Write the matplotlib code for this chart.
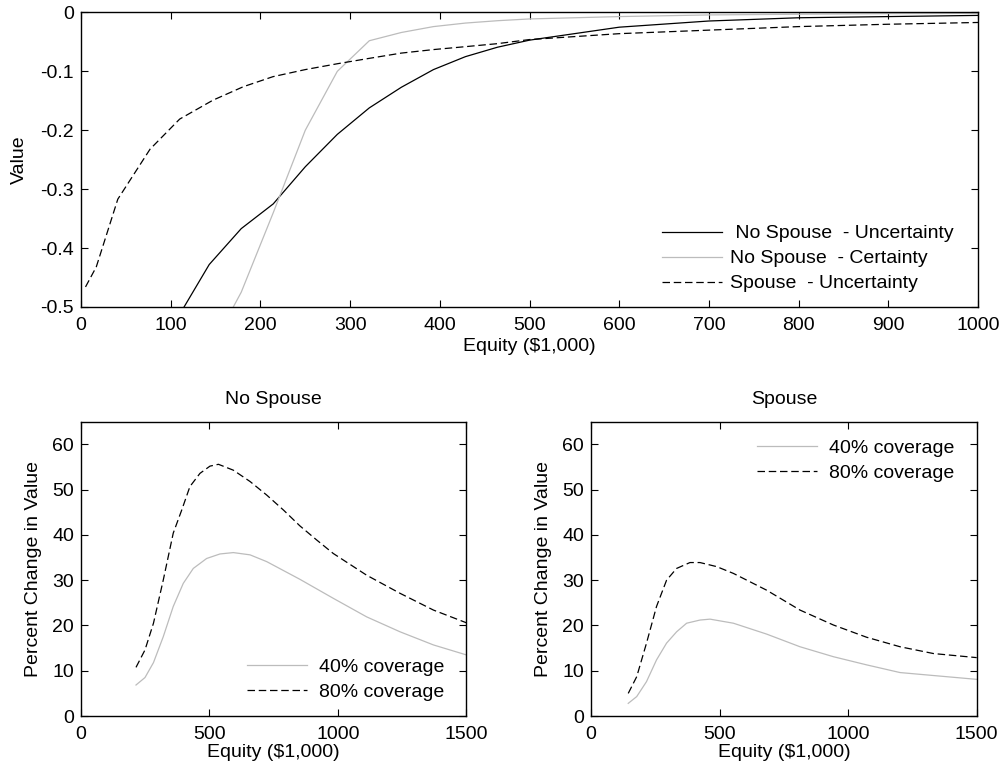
import matplotlib
matplotlib.use("Agg")
import matplotlib.pyplot as plt
from matplotlib.ticker import FormatStrFormatter

plt.rcParams["font.family"] = ["Liberation Sans", "DejaVu Sans"]
plt.rcParams["font.size"] = 14
plt.rcParams["axes.unicode_minus"] = False

# --- top panel: value by equity ---
eq_nospouse = [107.1, 142.9, 178.6, 214.3, 250.0, 285.7, 321.4, 357.1, 392.9,
               428.6, 464.3, 500.0, 600.0, 700.0, 800.0, 900.0, 1000.0]
val_nospouse_unc = [-0.52, -0.428, -0.367, -0.325, -0.262, -0.207, -0.162, -0.127, -0.097,
                    -0.075, -0.059, -0.047, -0.025, -0.0145, -0.009, -0.007, -0.005]
val_nospouse_cert = [-0.62, -0.576, -0.475, -0.34, -0.20, -0.10, -0.048, -0.034, -0.024,
                     -0.018, -0.014, -0.011, -0.007, -0.0042, -0.003, -0.002, -0.0015]
eq_spouse = [5, 17, 41, 77, 110, 147, 181, 214, 250, 286, 321, 357, 393, 429, 464,
             500, 600, 700, 800, 900, 1000]
val_spouse_unc = [-0.466, -0.432, -0.317, -0.232, -0.181, -0.149, -0.126, -0.109, -0.097,
                  -0.087, -0.078, -0.069, -0.063, -0.058, -0.053, -0.046, -0.036, -0.030,
                  -0.024, -0.020, -0.017]

# --- bottom left: no spouse, percent change ---
eq_ns_80 = [214, 249, 282, 320, 359, 392, 424, 463, 502, 535, 593, 658, 723, 788, 852,
            917, 982, 1112, 1242, 1372, 1500]
pct_ns_80 = [10.75, 14.6, 20.5, 30.0, 40.4, 45.5, 50.7, 53.6, 55.2, 55.6, 54.3, 51.8, 48.8,
             45.5, 42.0, 38.9, 35.9, 31.1, 27.1, 23.4, 20.6]
eq_ns_40 = [214, 249, 282, 320, 359, 398, 437, 489, 541, 593, 658, 723, 852, 982, 1112,
            1242, 1372, 1500]
pct_ns_40 = [6.85, 8.5, 11.8, 17.5, 24.2, 29.3, 32.6, 34.8, 35.8, 36.1, 35.6, 34.1, 30.2,
             26.0, 21.9, 18.6, 15.7, 13.5]

# --- bottom right: spouse, percent change ---
eq_s_80 = [145, 178, 216, 255, 294, 333, 385, 424, 489, 554, 683, 813, 943, 1072, 1202,
           1332, 1500]
pct_s_80 = [5.0, 8.7, 16.1, 24.2, 30.0, 32.6, 33.9, 33.9, 33.0, 31.5, 27.8, 23.4, 20.1,
            17.4, 15.3, 13.8, 12.9]
eq_s_40 = [145, 178, 216, 255, 294, 333, 372, 424, 463, 554, 683, 813, 943, 1072, 1202, 1500]
pct_s_40 = [2.8, 4.3, 7.6, 12.4, 16.1, 18.6, 20.5, 21.2, 21.4, 20.5, 18.1, 15.3, 13.1,
            11.3, 9.6, 8.1]

gray = "#bcbcbc"
dash = (0, (6, 3))


def style_axes(ax):
    ax.tick_params(direction="in", top=True, right=True, length=5, width=0.8,
                   labelsize=14)
    ax.tick_params(axis="x", pad=7)
    ax.tick_params(axis="y", pad=5)
    for s in ax.spines.values():
        s.set_linewidth(1.0)


def add_legend(ax, x, y, pad):
    ax.legend(loc="upper left", bbox_to_anchor=(x, y), frameon=False,
              handlelength=3.1, handletextpad=pad, labelspacing=0.38,
              borderpad=0, borderaxespad=0, fontsize=14)


fig = plt.figure(figsize=(10.04, 7.74), dpi=100)

ax = fig.add_axes([0.0807, 0.6034, 0.8934, 0.3805])
ax.plot(eq_nospouse, val_nospouse_unc, color="black", lw=0.9, label=" No Spouse  - Uncertainty")
ax.plot(eq_nospouse, val_nospouse_cert, color=gray, lw=0.9, label="No Spouse  - Certainty")
ax.plot(eq_spouse, val_spouse_unc, color="black", lw=0.9, linestyle=dash,
        label="Spouse  - Uncertainty")
ax.set_xlim(0, 1000)
ax.set_ylim(-0.5, 0)
ax.set_xticks(range(0, 1001, 100))
ax.set_yticks([-0.5, -0.4, -0.3, -0.2, -0.1, 0])
ax.yaxis.set_major_formatter(FormatStrFormatter("%g"))
ax.set_xlabel(r"Equity (\$1,000)", labelpad=3)
ax.set_ylabel("Value", labelpad=9)
style_axes(ax)
add_legend(ax, 0.6474, 0.279, 0.43)

panels = [
    ([0.0807, 0.0749, 0.3838, 0.3802], "No Spouse", eq_ns_40, pct_ns_40, eq_ns_80, pct_ns_80,
     (0.4308, 0.1954)),
    ([0.5886, 0.0749, 0.3842, 0.3802], "Spouse", eq_s_40, pct_s_40, eq_s_80, pct_s_80,
     (0.4304, 0.9395)),
]
for rect, title, x40, y40, x80, y80, legpos in panels:
    a = fig.add_axes(rect)
    a.plot(x40, y40, color=gray, lw=0.9, label="40% coverage")
    a.plot(x80, y80, color="black", lw=0.9, linestyle=dash, label="80% coverage")
    a.set_xlim(0, 1500)
    a.set_ylim(0, 65)
    a.set_xticks([0, 500, 1000, 1500])
    a.set_yticks(range(0, 61, 10))
    a.set_xlabel(r"Equity (\$1,000)", labelpad=1)
    a.set_ylabel("Percent Change in Value", labelpad=7)
    a.set_title(title, fontsize=14, pad=12.5)
    style_axes(a)
    add_legend(a, legpos[0], legpos[1], 0.62)

fig.savefig("out.png", dpi=100)
